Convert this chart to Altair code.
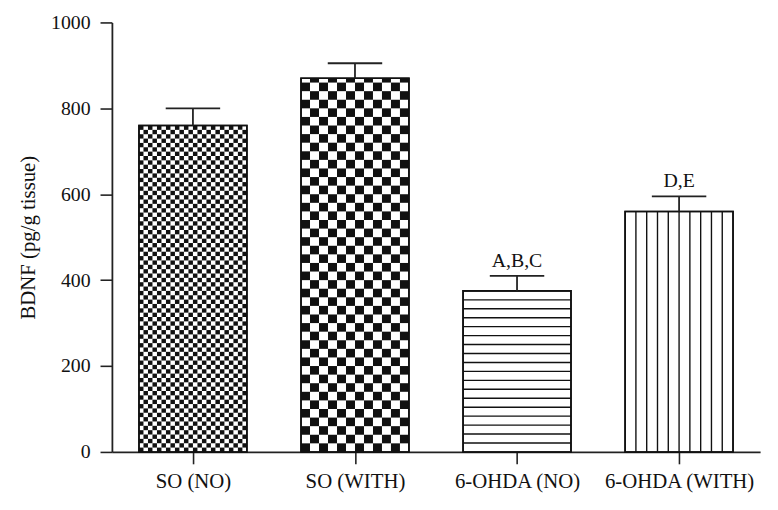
import json
import altair as alt
import pandas as pd

# ---- data ----
categories = ["SO (NO)", "SO (WITH)", "6-OHDA (NO)", "6-OHDA (WITH)"]
means = [760, 870, 375, 560]
upper = [800, 905, 410, 595]
annotations = ["", "", "A,B,C", "D,E"]
patterns = ["fine_checker", "coarse_checker", "hlines", "vlines"]

# pattern style parameters (not data)
BAR_HALF = 0.333
CAP_HALF = 0.168
FONT = "Liberation Serif"

bars = pd.DataFrame({
    "cat": categories,
    "xa": [i + 0.5 - BAR_HALF for i in range(len(categories))],
    "xb": [i + 0.5 + BAR_HALF for i in range(len(categories))],
    "xc": [i + 0.5 for i in range(len(categories))],
    "ya": [0] * len(categories),
    "yb": means,
    "up": upper,
    "label": annotations,
})

# pattern cells
cells = []
lines = []
for i, (pat, m) in enumerate(zip(patterns, means)):
    left = i + 0.5 - BAR_HALF
    width = 2 * BAR_HALF
    if pat in ("fine_checker", "coarse_checker"):
        ncol, rowh = (24, 760 / 75) if pat == "fine_checker" else (12, 20.0)
        cw = width / ncol
        r = 0
        while r * rowh < m:
            for c in range(ncol):
                if (r + c) % 2 == 0:
                    cells.append({"xa": left + c * cw, "xb": left + (c + 1) * cw,
                                  "ya": r * rowh, "yb": min((r + 1) * rowh, m)})
            r += 1
    elif pat == "hlines":
        step = m / 18
        k = 1
        while k * step < m - 1:
            lines.append({"xa": left, "xb": left + width, "ya": k * step, "yb": k * step})
            k += 1
    elif pat == "vlines":
        ncol = 10
        for c in range(1, ncol):
            xx = left + c * width / ncol
            lines.append({"xa": xx, "xb": xx, "ya": 0, "yb": m})

cells = pd.DataFrame(cells)
lines = pd.DataFrame(lines)

errs = pd.DataFrame({
    "xa": bars["xc"], "xb": bars["xc"], "ya": bars["yb"], "yb": bars["up"],
})
caps = pd.DataFrame({
    "xa": bars["xc"] - CAP_HALF, "xb": bars["xc"] + CAP_HALF, "ya": bars["up"], "yb": bars["up"],
})
texts = bars[bars["label"] != ""][["xc", "up", "label"]].rename(columns={"xc": "xa", "up": "ya"})

label_arr = json.dumps(categories)

xscale = alt.Scale(domain=[0, 4], nice=False, zero=False)
yscale = alt.Scale(domain=[0, 1000], nice=False)

xaxis = alt.Axis(
    values=[0.5, 1.5, 2.5, 3.5],
    labelExpr=f"{label_arr}[floor(datum.value)]",
    title="",
    grid=False,
    tickSize=12,
    tickWidth=1.6,
    tickColor="#222",
    domainColor="#222",
    domainWidth=1.8,
    labelFont=FONT,
    labelFontSize=21,
    labelColor="#111",
    labelPadding=7,
    labelFlush=False,
    labelOverlap=False,
)
yaxis = alt.Axis(
    values=[0, 200, 400, 600, 800, 1000],
    format="d",
    title="BDNF (pg/g tissue)",
    titleFont=FONT,
    titleFontSize=21,
    titleFontWeight="normal",
    titleColor="#111",
    titlePadding=12,
    grid=False,
    tickSize=12,
    tickWidth=1.6,
    tickColor="#222",
    domainColor="#222",
    domainWidth=1.8,
    labelFont=FONT,
    labelFontSize=20,
    labelColor="#111",
    labelPadding=10,
)

X = alt.X("xa:Q", scale=xscale, axis=xaxis)
Y = alt.Y("ya:Q", scale=yscale, axis=yaxis)

bar_fill = alt.Chart(bars).mark_rect(fill="white", stroke="#111", strokeWidth=1.6).encode(
    x=X, x2="xb", y=Y, y2="yb")
checker = alt.Chart(cells).mark_rect(fill="#111", strokeWidth=0).encode(
    x=X, x2="xb", y=Y, y2="yb")
line_layer = alt.Chart(lines).mark_rule(stroke="#111", strokeWidth=1.4).encode(
    x=X, x2="xb", y=Y, y2="yb")
bar_outline = alt.Chart(bars).mark_rect(fillOpacity=0, stroke="#111", strokeWidth=1.6).encode(
    x=X, x2="xb", y=Y, y2="yb")
err_layer = alt.Chart(errs).mark_rule(stroke="#222", strokeWidth=1.8).encode(
    x=X, x2="xb", y=Y, y2="yb")
cap_layer = alt.Chart(caps).mark_rule(stroke="#222", strokeWidth=1.8).encode(
    x=X, x2="xb", y=Y, y2="yb")
text_layer = alt.Chart(texts).mark_text(
    font=FONT, fontSize=20, color="#111", baseline="bottom", dy=-5).encode(
    x=X, y=Y, text="label:N")

chart = alt.layer(
    bar_fill, checker, line_layer, bar_outline, err_layer, cap_layer, text_layer
).properties(
    width=655,
    height=434,
    autosize=alt.AutoSizeParams(type="none"),
    padding={"left": 105, "top": 12, "right": 10, "bottom": 48},
    background="white",
).configure_view(stroke=None)

chart.save("out.html", embed_options={"renderer": "svg", "actions": False})
